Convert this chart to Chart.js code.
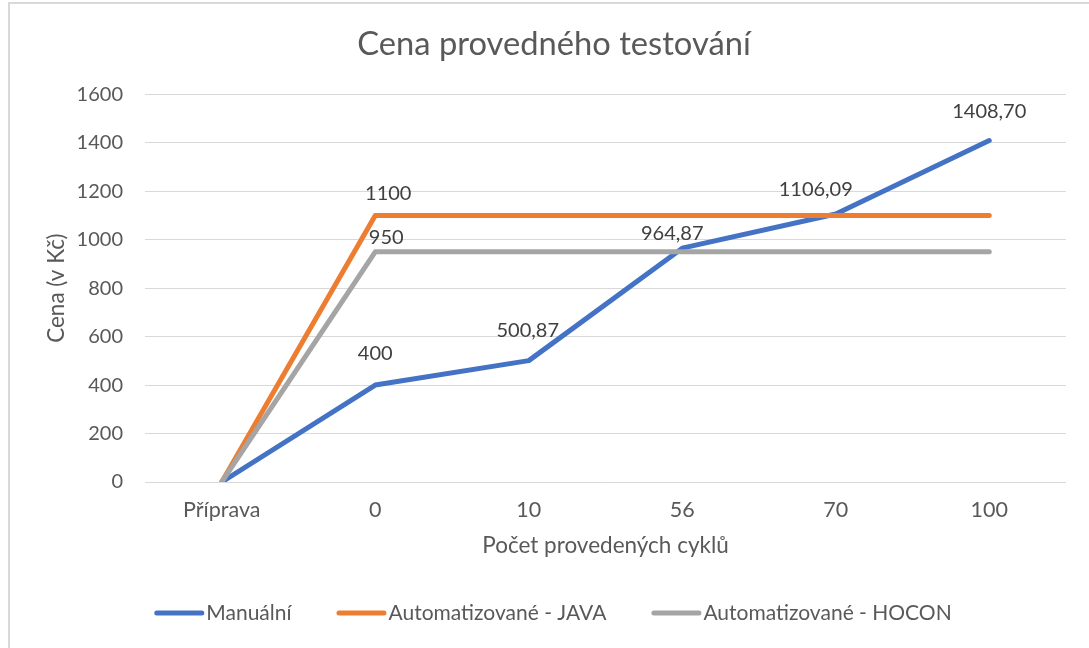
<!DOCTYPE html>
<html><head><meta charset="utf-8">
<script src="https://cdn.jsdelivr.net/npm/chart.js@4/dist/chart.umd.min.js"></script>
<style>
html,body{margin:0;padding:0;background:#fff;overflow:hidden;}
#wrap{position:relative;width:1089px;height:648px;overflow:hidden;}
#frame{position:absolute;left:8px;top:2px;width:1200px;height:800px;border:2px solid #d9d9d9;box-sizing:border-box;}
canvas{position:absolute;left:0;top:0;}
</style></head><body>
<div id="wrap"><div id="frame"></div><canvas id="c" width="1089" height="648"></canvas></div>
<script>
// ---- data ----
const categories = ['Příprava', '0', '10', '56', '70', '100'];
const seriesNames = ['Manuální', 'Automatizované - JAVA', 'Automatizované - HOCON'];
const manualValues = [0, 400, 500.87, 964.87, 1106.09, 1408.70];
const javaValues = [0, 1100, 1100, 1100, 1100, 1100];
const hoconValues = [0, 950, 950, 950, 950, 950];
const yMin = 0, yMax = 1600, yStep = 200;
const manualLabelShown = [false, true, true, true, true, true];
const javaLabelShown = [false, true, false, false, false, false];
const hoconLabelShown = [false, true, false, false, false, false];
const chartTitle = 'Cena provedného testování';
const xTitle = 'Počet provedených cyklů';
const yTitle = 'Cena (v Kč)';

// ---- styles ----
const FONT = 'Lato';
const TEXT = '#595959';
const colors = ['#4472C4', '#ED7D31', '#A5A5A5'];

function fmt(v) {
  return Number.isInteger(v) ? String(v) : v.toFixed(2).replace('.', ',');
}

const labelPlugin = {
  id: 'pointLabels',
  afterDatasetsDraw(chart) {
    const ctx = chart.ctx;
    ctx.save();
    ctx.font = '20px ' + FONT;
    ctx.fillStyle = '#404040';
    ctx.textAlign = 'center';
    ctx.textBaseline = 'middle';
    chart.data.datasets.forEach((ds, i) => {
      const meta = chart.getDatasetMeta(i);
      meta.data.forEach((pt, j) => {
        if (!ds.labelShown[j]) return;
        const off = ds.labelOffsets[j];
        ctx.fillText(fmt(ds.data[j]), pt.x + off[0], pt.y + off[1]);
      });
    });
    ctx.restore();
  }
};

const legendPlugin = {
  id: 'bottomLegend',
  afterDraw(chart) {
    const ctx = chart.ctx;
    ctx.save();
    ctx.font = '21px ' + FONT;
    const lineLen = 50, gap = 2, spacing = 45, cy = 613, cx = 553;
    const ds = chart.data.datasets;
    const widths = ds.map(d => ctx.measureText(d.label).width);
    let total = widths.reduce((a, w) => a + lineLen + gap + w, 0) + spacing * (ds.length - 1);
    let x = cx - total / 2;
    ds.forEach((d, i) => {
      ctx.strokeStyle = d.borderColor;
      ctx.lineWidth = 5;
      ctx.lineCap = 'round';
      ctx.beginPath();
      ctx.moveTo(x + 2.5, cy);
      ctx.lineTo(x + lineLen - 2.5, cy);
      ctx.stroke();
      ctx.fillStyle = TEXT;
      ctx.textAlign = 'left';
      ctx.textBaseline = 'middle';
      ctx.fillText(d.label, x + lineLen + gap, cy);
      x += lineLen + gap + widths[i] + spacing;
    });
    ctx.restore();
  }
};

function mkDataset(name, values, color, order, shown, offsets) {
  return {
    label: name,
    data: values,
    borderColor: color,
    backgroundColor: color,
    borderWidth: 5,
    borderCapStyle: 'round',
    borderJoinStyle: 'round',
    pointRadius: 0,
    pointHoverRadius: 0,
    tension: 0,
    order: order,
    labelShown: shown,
    labelOffsets: offsets
  };
}

new Chart(document.getElementById('c'), {
  type: 'line',
  data: {
    labels: categories,
    datasets: [
      mkDataset(seriesNames[0], manualValues, colors[0], 3, manualLabelShown,
        [[0, 0], [0, -32], [-1, -30], [-10, -15], [-20, -24], [0, -29]]),
      mkDataset(seriesNames[1], javaValues, colors[1], 2, javaLabelShown,
        [[0, 0], [13, -22], [0, 0], [0, 0], [0, 0], [0, 0]]),
      mkDataset(seriesNames[2], hoconValues, colors[2], 1, hoconLabelShown,
        [[0, 0], [11, -14], [0, 0], [0, 0], [0, 0], [0, 0]])
    ]
  },
  options: {
    responsive: false,
    animation: false,
    devicePixelRatio: 1,
    layout: { padding: { left: 42, right: 23, top: 0, bottom: 88.5 } },
    plugins: {
      legend: { display: false },
      tooltip: { enabled: false },
      title: {
        display: true,
        text: chartTitle,
        color: TEXT,
        font: { family: FONT, size: 32.7, weight: '400' },
        padding: { top: 25, bottom: 30 }
      }
    },
    scales: {
      x: {
        offset: true,
        grid: { display: false, drawTicks: false, offset: true },
        border: { display: false },
        ticks: { color: TEXT, font: { family: FONT, size: 21.5 }, padding: 15, maxRotation: 0 },
        title: { display: true, text: xTitle, color: TEXT, font: { family: FONT, size: 22.5 }, padding: { top: 0, bottom: 0 } },
        afterFit(s) { s.height = 77.5; }
      },
      y: {
        min: yMin, max: yMax,
        grid: { color: '#d9d9d9', lineWidth: 1, drawTicks: false },
        border: { display: false },
        ticks: { stepSize: yStep, color: TEXT, font: { family: FONT, size: 20 }, padding: 22,
          callback: (v) => String(v) },
        title: { display: true, text: yTitle, color: TEXT, font: { family: FONT, size: 22.5 }, padding: { top: 1.5, bottom: 0 } },
        afterFit(s) { s.width = 103; }
      }
    }
  },
  plugins: [labelPlugin, legendPlugin]
});
</script>
</body></html>
